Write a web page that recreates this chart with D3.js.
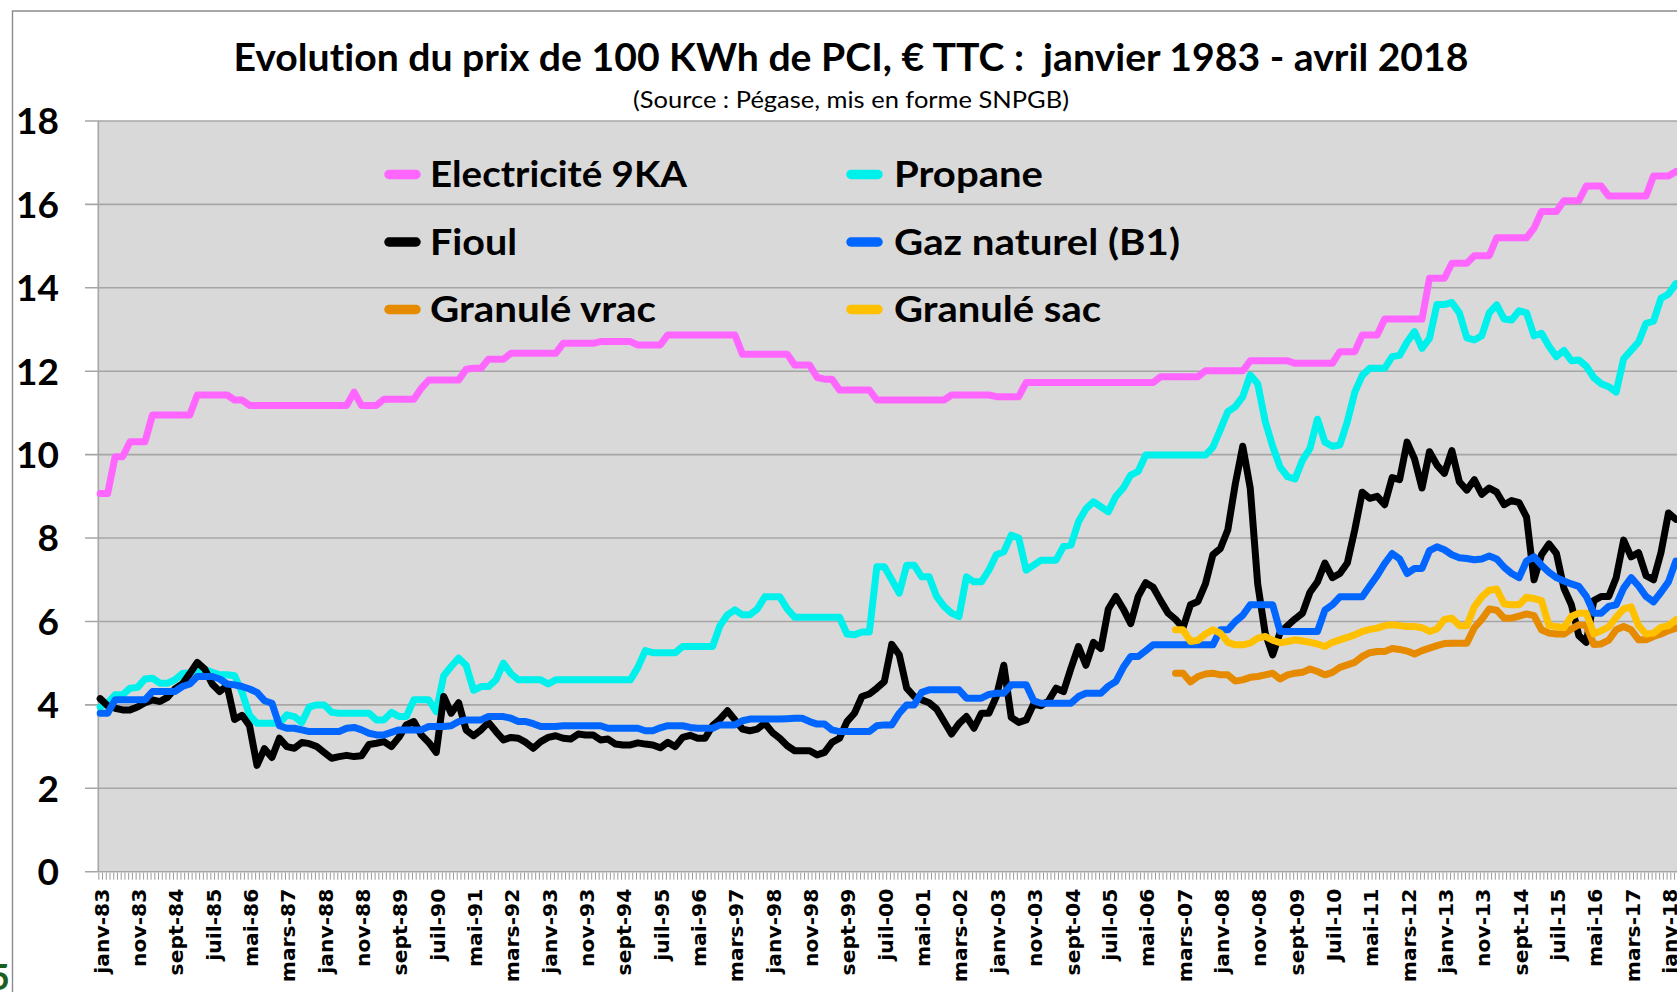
<!DOCTYPE html>
<html>
<head>
<meta charset="utf-8">
<script src="https://cdn.jsdelivr.net/npm/d3@7"></script>
<style>
  html, body { margin: 0; padding: 0; background: #fff; overflow: hidden; }
  svg { display: block; }
  text { font-variant-ligatures: none; }
</style>
</head>
<body>
<svg id="chart" width="1677" height="992"></svg>
<script>
"use strict";

// ---- categories: one per month, janv-83 .. avr-18
const monthNames = ["janv", "févr", "mars", "avr", "mai", "juin", "juil", "août", "sept", "oct", "nov", "déc"];
const firstYear = 1983, lastYear = 2018, lastMonthIndex = 3;
const categories = [];
for (let yr = firstYear; yr <= lastYear; yr++) {
  monthNames.forEach((m, i) => {
    if (yr === lastYear && i > lastMonthIndex) return;
    categories.push(`${m}-${String(yr % 100).padStart(2, "0")}`);
  });
}

// one label every 10 months, as printed on the axis
const tickLabels = [
  "janv-83", "nov-83", "sept-84", "juil-85", "mai-86", "mars-87", "janv-88", "nov-88", "sept-89", "juil-90",
  "mai-91", "mars-92", "janv-93", "nov-93", "sept-94", "juil-95", "mai-96", "mars-97", "janv-98", "nov-98",
  "sept-99", "juil-00", "mai-01", "mars-02", "janv-03", "nov-03", "sept-04", "juil-05", "mai-06", "mars-07",
  "janv-08", "nov-08", "sept-09", "Juil-10", "mai-11", "mars-12", "janv-13", "nov-13", "sept-14", "juil-15",
  "mai-16", "mars-17", "janv-18"
];
const tickEvery = 10;

const yTicks = [0, 2, 4, 6, 8, 10, 12, 14, 16, 18];

// ---- series, € TTC per 100 kWh, read every 2 months (janv, mars, mai, juil, sept, nov)
const sampleStep = 2;

const electricite = [
  9.07, 9.07, 9.95, 9.95, 10.31, 10.31,        // 1983
  10.31, 10.95, 10.95, 10.95, 10.95, 10.95,    // 1984
  10.95, 11.43, 11.43, 11.43, 11.43, 11.43,    // 1985
  11.31, 11.31, 11.18, 11.18, 11.18, 11.18,    // 1986
  11.18, 11.18, 11.18, 11.18, 11.18, 11.18,    // 1987
  11.18, 11.18, 11.18, 11.18, 11.5, 11.18,     // 1988
  11.18, 11.18, 11.33, 11.33, 11.33, 11.33,    // 1989
  11.33, 11.59, 11.79, 11.79, 11.79, 11.79,    // 1990
  11.79, 12.05, 12.07, 12.07, 12.29, 12.29,    // 1991
  12.29, 12.43, 12.43, 12.43, 12.43, 12.43,    // 1992
  12.43, 12.43, 12.67, 12.67, 12.67, 12.67,    // 1993
  12.67, 12.71, 12.71, 12.71, 12.71, 12.71,    // 1994
  12.63, 12.63, 12.63, 12.63, 12.87, 12.87,    // 1995
  12.87, 12.87, 12.87, 12.87, 12.87, 12.87,    // 1996
  12.87, 12.87, 12.41, 12.41, 12.41, 12.41,    // 1997
  12.41, 12.41, 12.41, 12.15, 12.15, 12.15,    // 1998
  11.85, 11.81, 11.81, 11.55, 11.55, 11.55,    // 1999
  11.55, 11.55, 11.31, 11.31, 11.31, 11.31,    // 2000
  11.31, 11.31, 11.31, 11.31, 11.31, 11.31,    // 2001
  11.43, 11.43, 11.43, 11.43, 11.43, 11.43,    // 2002
  11.39, 11.39, 11.39, 11.39, 11.73, 11.73,    // 2003
  11.73, 11.73, 11.73, 11.73, 11.73, 11.73,    // 2004
  11.73, 11.73, 11.73, 11.73, 11.73, 11.73,    // 2005
  11.73, 11.73, 11.73, 11.73, 11.87, 11.87,    // 2006
  11.87, 11.87, 11.87, 11.87, 12.01, 12.01,    // 2007
  12.01, 12.01, 12.01, 12.01, 12.25, 12.25,    // 2008
  12.25, 12.25, 12.25, 12.25, 12.19, 12.19,    // 2009
  12.19, 12.19, 12.19, 12.19, 12.47, 12.47,    // 2010
  12.47, 12.87, 12.87, 12.87, 13.25, 13.25,    // 2011
  13.25, 13.25, 13.25, 13.25, 14.23, 14.23,    // 2012
  14.23, 14.59, 14.59, 14.59, 14.77, 14.77,    // 2013
  14.77, 15.2, 15.2, 15.2, 15.2, 15.2,         // 2014
  15.43, 15.83, 15.83, 15.83, 16.09, 16.09,    // 2015
  16.09, 16.44, 16.44, 16.44, 16.2, 16.2,      // 2016
  16.2, 16.2, 16.2, 16.2, 16.68, 16.68,        // 2017
  16.68, 16.79                                 // 2018
];

const propane = [
  3.95, 4.05, 4.24, 4.24, 4.4, 4.42,           // 1983
  4.62, 4.64, 4.52, 4.52, 4.6, 4.75,           // 1984
  4.77, 4.85, 4.85, 4.78, 4.72, 4.72,          // 1985
  4.7, 4.3, 3.75, 3.56, 3.56, 3.56,            // 1986
  3.56, 3.76, 3.72, 3.58, 3.95, 4.0,           // 1987
  4.0, 3.82, 3.8, 3.8, 3.8, 3.8,               // 1988
  3.8, 3.64, 3.64, 3.82, 3.72, 3.72,           // 1989
  4.12, 4.12, 4.12, 3.84, 4.7, 4.92,           // 1990
  5.12, 4.95, 4.35, 4.44, 4.44, 4.6,           // 1991
  5.0, 4.75, 4.6, 4.6, 4.6, 4.6,               // 1992
  4.5, 4.6, 4.6, 4.6, 4.6, 4.6,                // 1993
  4.6, 4.6, 4.6, 4.6, 4.6, 4.6,                // 1994
  4.9, 5.3, 5.25, 5.25, 5.25, 5.25,            // 1995
  5.4, 5.4, 5.4, 5.4, 5.4, 5.9,                // 1996
  6.16, 6.28, 6.16, 6.16, 6.3, 6.59,           // 1997
  6.59, 6.59, 6.3, 6.1, 6.1, 6.1,              // 1998
  6.1, 6.1, 6.1, 6.1, 5.7, 5.68,               // 1999
  5.75, 5.75, 7.31, 7.31, 7.0, 6.68,           // 2000
  7.35, 7.35, 7.07, 7.07, 6.6, 6.36,           // 2001
  6.2, 6.12, 7.07, 6.95, 6.95, 7.23,           // 2002
  7.6, 7.67, 8.07, 8.0, 7.23, 7.35,            // 2003
  7.47, 7.47, 7.47, 7.8, 7.83, 8.39,           // 2004
  8.7, 8.87, 8.75, 8.63, 9.0, 9.2,             // 2005
  9.51, 9.6, 9.99, 9.99, 9.99, 9.99,           // 2006
  9.99, 9.99, 9.99, 9.99, 9.99, 10.18,         // 2007
  10.6, 11.03, 11.15, 11.39, 11.91, 11.7,      // 2008
  10.8, 10.2, 9.7, 9.47, 9.42, 9.87,           // 2009
  10.15, 10.85, 10.3, 10.2, 10.23, 10.79,      // 2010
  11.5, 11.9, 12.07, 12.07, 12.07, 12.35,      // 2011
  12.38, 12.7, 12.95, 12.55, 12.79, 13.6,      // 2012
  13.6, 13.65, 13.4, 12.8, 12.75, 12.85,       // 2013
  13.4, 13.59, 13.25, 13.23, 13.45, 13.4,      // 2014
  12.85, 12.91, 12.6, 12.35, 12.5, 12.25,      // 2015
  12.27, 12.12, 11.85, 11.7, 11.63, 11.5,      // 2016
  12.3, 12.5, 12.7, 13.15, 13.2, 13.75,        // 2017
  13.85, 14.1                                  // 2018
];

const fioul = [
  4.15, 3.98, 3.92, 3.88, 3.88, 3.95,          // 1983
  4.05, 4.12, 4.08, 4.18, 4.38, 4.5,           // 1984
  4.75, 5.02, 4.86, 4.5, 4.32, 4.46,           // 1985
  3.65, 3.75, 3.5, 2.55, 2.95, 2.74,           // 1986
  3.2, 3.0, 2.96, 3.1, 3.07, 3.0,              // 1987
  2.86, 2.72, 2.76, 2.79, 2.76, 2.78,          // 1988
  3.05, 3.08, 3.12, 3.0, 3.22, 3.52,           // 1989
  3.6, 3.28, 3.1, 2.86, 4.2, 3.8,              // 1990
  4.05, 3.4, 3.26, 3.4, 3.58, 3.36,            // 1991
  3.16, 3.22, 3.2, 3.1, 2.96, 3.12,            // 1992
  3.22, 3.26, 3.2, 3.18, 3.3, 3.28,            // 1993
  3.28, 3.16, 3.18, 3.06, 3.04, 3.04,          // 1994
  3.09, 3.06, 3.04, 2.97, 3.1, 3.0,            // 1995
  3.22, 3.27, 3.2, 3.2, 3.5, 3.66,             // 1996
  3.86, 3.64, 3.42, 3.38, 3.42, 3.56,          // 1997
  3.34, 3.2, 3.02, 2.9, 2.9, 2.9,              // 1998
  2.8, 2.86, 3.1, 3.2, 3.6, 3.8,               // 1999
  4.2, 4.26, 4.4, 4.56, 5.45, 5.2,             // 2000
  4.4, 4.2, 4.12, 4.05, 3.9, 3.6,              // 2001
  3.3, 3.55, 3.72, 3.44, 3.8, 3.8,             // 2002
  4.2, 4.95, 3.7, 3.58, 3.64, 4.02,            // 2003
  3.98, 4.1, 4.4, 4.32, 4.88, 5.4,             // 2004
  4.95, 5.5, 5.35, 6.3, 6.6, 6.3,              // 2005
  5.95, 6.6, 6.93, 6.82, 6.5, 6.2,             // 2006
  6.05, 5.85, 6.4, 6.48, 6.9, 7.6,             // 2007
  7.75, 8.2, 9.3, 10.2, 9.2, 6.9,              // 2008
  5.72, 5.2, 5.74, 5.9, 6.06, 6.2,             // 2009
  6.7, 6.95, 7.4, 7.05, 7.15, 7.4,             // 2010
  8.2, 9.1, 8.95, 9.0, 8.8, 9.45,              // 2011
  9.4, 10.3, 9.9, 9.2, 10.07, 9.75,            // 2012
  9.55, 10.1, 9.35, 9.15, 9.4, 9.05,           // 2013
  9.2, 9.1, 8.8, 8.9, 8.85, 8.5,               // 2014
  7.0, 7.6, 7.86, 7.63, 6.8, 6.4,              // 2015
  5.66, 5.5, 6.5, 6.6, 6.6, 7.05,              // 2016
  7.95, 7.55, 7.65, 7.1, 7.0, 7.65,            // 2017
  8.6, 8.45                                    // 2018
];

const gazNaturel = [
  3.8, 3.8, 4.12, 4.12, 4.12, 4.12,            // 1983
  4.12, 4.32, 4.32, 4.32, 4.32, 4.44,          // 1984
  4.5, 4.68, 4.68, 4.68, 4.62, 4.5,            // 1985
  4.48, 4.44, 4.38, 4.3, 4.1, 4.04,            // 1986
  3.5, 3.44, 3.44, 3.4, 3.36, 3.36,            // 1987
  3.36, 3.36, 3.36, 3.44, 3.46, 3.4,           // 1988
  3.32, 3.28, 3.28, 3.34, 3.4, 3.4,            // 1989
  3.4, 3.4, 3.48, 3.48, 3.48, 3.5,             // 1990
  3.6, 3.64, 3.64, 3.64, 3.72, 3.72,           // 1991
  3.72, 3.68, 3.6, 3.6, 3.55, 3.48,            // 1992
  3.48, 3.48, 3.5, 3.5, 3.5, 3.5,              // 1993
  3.5, 3.5, 3.44, 3.44, 3.44, 3.44,            // 1994
  3.44, 3.38, 3.38, 3.45, 3.5, 3.5,            // 1995
  3.5, 3.46, 3.44, 3.44, 3.44, 3.52,           // 1996
  3.52, 3.52, 3.62, 3.66, 3.66, 3.66,          // 1997
  3.66, 3.66, 3.67, 3.68, 3.68, 3.6,           // 1998
  3.54, 3.54, 3.4, 3.36, 3.36, 3.36,           // 1999
  3.36, 3.36, 3.5, 3.52, 3.52, 3.8,            // 2000
  4.0, 4.0, 4.3, 4.36, 4.36, 4.36,             // 2001
  4.36, 4.36, 4.16, 4.16, 4.16, 4.25,          // 2002
  4.28, 4.28, 4.48, 4.48, 4.48, 4.1,           // 2003
  4.04, 4.04, 4.04, 4.04, 4.04, 4.2,           // 2004
  4.28, 4.28, 4.28, 4.45, 4.56, 4.9,           // 2005
  5.16, 5.16, 5.3, 5.44, 5.44, 5.44,           // 2006
  5.44, 5.44, 5.44, 5.44, 5.44, 5.44,          // 2007
  5.8, 5.8, 6.0, 6.15, 6.4, 6.4,               // 2008
  6.4, 6.4, 5.76, 5.76, 5.76, 5.76,            // 2009
  5.76, 5.76, 6.27, 6.4, 6.59, 6.59,           // 2010
  6.59, 6.59, 6.85, 7.1, 7.39, 7.63,           // 2011
  7.5, 7.15, 7.27, 7.27, 7.7, 7.79,            // 2012
  7.72, 7.6, 7.53, 7.51, 7.48, 7.5,            // 2013
  7.57, 7.5, 7.3, 7.15, 7.05, 7.45,            // 2014
  7.55, 7.35, 7.18, 7.05, 6.97, 6.9,           // 2015
  6.84, 6.6, 6.2, 6.2, 6.36, 6.4,              // 2016
  6.8, 7.05, 6.85, 6.6, 6.47, 6.7,             // 2017
  6.95, 7.45                                   // 2018
];

// pellet series start in janvier 2007
const granuleStart = "janv-07";

const granuleVrac = [
  4.76, 4.76, 4.55, 4.68, 4.74, 4.76,          // 2007
  4.72, 4.72, 4.57, 4.6, 4.66, 4.68,           // 2008
  4.72, 4.76, 4.62, 4.72, 4.76, 4.78,          // 2009
  4.86, 4.8, 4.72, 4.78, 4.9, 4.96,            // 2010
  5.02, 5.16, 5.25, 5.28, 5.28, 5.35,          // 2011
  5.33, 5.29, 5.22, 5.3, 5.36, 5.42,           // 2012
  5.47, 5.48, 5.48, 5.48, 5.85, 6.05,          // 2013
  6.3, 6.27, 6.08, 6.08, 6.13, 6.18,           // 2014
  6.14, 5.8, 5.72, 5.7, 5.7, 5.82,             // 2015
  5.92, 5.9, 5.45, 5.46, 5.55, 5.8,            // 2016
  5.88, 5.8, 5.56, 5.56, 5.64, 5.7,            // 2017
  5.78, 5.84                                   // 2018
];

const granuleSac = [
  5.8, 5.8, 5.52, 5.55, 5.7, 5.8,              // 2007
  5.72, 5.5, 5.44, 5.44, 5.48, 5.6,            // 2008
  5.64, 5.55, 5.49, 5.52, 5.56, 5.53,          // 2009
  5.5, 5.46, 5.4, 5.5, 5.56, 5.62,             // 2010
  5.68, 5.76, 5.81, 5.84, 5.9, 5.92,           // 2011
  5.9, 5.88, 5.88, 5.85, 5.76, 5.82,           // 2012
  6.05, 6.08, 5.9, 5.9, 6.35, 6.59,            // 2013
  6.75, 6.78, 6.42, 6.4, 6.4, 6.58,            // 2014
  6.55, 6.5, 5.9, 5.88, 5.85, 6.12,            // 2015
  6.2, 6.2, 5.7, 5.78, 5.87, 6.1,              // 2016
  6.3, 6.35, 5.9, 5.7, 5.72, 5.86,             // 2017
  5.9, 6.04                                    // 2018
];

const seriesNames = ["Electricité 9KA", "Propane", "Fioul", "Gaz naturel (B1)", "Granulé vrac", "Granulé sac"];
const seriesValues = [electricite, propane, fioul, gazNaturel, granuleVrac, granuleSac];
const seriesStarts = ["janv-83", "janv-83", "janv-83", "janv-83", granuleStart, granuleStart];
const seriesColors = ["#FF66FF", "#00F0EC", "#000000", "#0066FF", "#E68A00", "#FFC000"];

// ---- layout
const W = 1677, H = 992;
const margin = { left: 98.3, top: 121, bottom: 871.7 };
const bandW = 3.734;
const gridColor = "#A6A6A6";
const calibri = "Lato, 'Open Sans', sans-serif";
const axisFont = "'DejaVu Sans', Verdana, sans-serif";

const svg = d3.select("#chart");
svg.append("rect").attr("width", W).attr("height", H).attr("fill", "#fff");

const x = d3.scaleBand()
  .domain(categories)
  .range([margin.left, margin.left + categories.length * bandW])
  .paddingInner(0).paddingOuter(0);
const y = d3.scaleLinear().domain([0, 18]).range([margin.bottom, margin.top]);
const plotRight = x.range()[1];
const cx = c => x(c) + x.bandwidth() / 2;

// outer chart frame (only the top and left edges are in view)
svg.append("path")
  .attr("d", `M12.5,${H} V11 H${W}`)
  .attr("fill", "none").attr("stroke", "#8C8C8C").attr("stroke-width", 1.4);

// stray glyph peeking out at the bottom left
svg.append("text")
  .attr("x", 10).attr("y", 990)
  .attr("text-anchor", "end")
  .attr("font-family", calibri).attr("font-weight", "bold").attr("font-size", 36)
  .attr("fill", "#1D5E1D")
  .text("5");

// plot area
svg.append("rect")
  .attr("x", margin.left).attr("y", margin.top)
  .attr("width", plotRight - margin.left).attr("height", margin.bottom - margin.top)
  .attr("fill", "#D9D9D9");

// gridlines + left tick marks
svg.append("g").selectAll("line")
  .data(yTicks)
  .join("line")
  .attr("x1", 85).attr("x2", plotRight)
  .attr("y1", d => y(d)).attr("y2", d => y(d))
  .attr("stroke", gridColor).attr("stroke-width", 1.6);

// y axis line
svg.append("line")
  .attr("x1", margin.left).attr("x2", margin.left)
  .attr("y1", margin.top).attr("y2", margin.bottom)
  .attr("stroke", gridColor).attr("stroke-width", 1.6);

// y labels
svg.append("g").selectAll("text")
  .data(yTicks)
  .join("text")
  .attr("x", 59).attr("y", d => y(d))
  .attr("dy", "0.36em")
  .attr("text-anchor", "end")
  .attr("font-family", calibri).attr("font-weight", "bold").attr("font-size", 37)
  .attr("fill", "#000")
  .text(d => d);

// monthly tick marks under the category axis
svg.append("g").selectAll("line")
  .data(categories)
  .join("line")
  .attr("x1", d => x(d) + 0.5).attr("x2", d => x(d) + 0.5)
  .attr("y1", margin.bottom + 1).attr("y2", margin.bottom + 8)
  .attr("stroke", "#9A9A9A").attr("stroke-width", 1);

// category labels, rotated; font size tuned so "janv-83" runs about 85px
const gX = svg.append("g");
const xLabels = gX.selectAll("text")
  .data(tickLabels)
  .join("text")
  .attr("transform", (d, i) => `translate(${cx(categories[i * tickEvery]) + 1.2},${margin.bottom + 17}) rotate(-90)`)
  .attr("dy", "0.36em")
  .attr("text-anchor", "end")
  .attr("font-family", axisFont).attr("font-weight", "bold").attr("font-size", 20)
  .attr("fill", "#000")
  .text(d => d);
const firstLen = xLabels.node().getComputedTextLength();
if (firstLen > 0) xLabels.attr("font-size", 20 * 85 / firstLen);

// series lines
const line = d3.line()
  .x(d => cx(d.cat))
  .y(d => y(d.v))
  .curve(d3.curveLinear);

const gLines = svg.append("g");
seriesValues.forEach((vals, s) => {
  const start = categories.indexOf(seriesStarts[s]);
  const pts = vals.map((v, i) => ({ cat: categories[start + i * sampleStep], v }));
  gLines.append("path")
    .attr("d", line(pts))
    .attr("fill", "none")
    .attr("stroke", seriesColors[s])
    .attr("stroke-width", 7)
    .attr("stroke-linejoin", "round")
    .attr("stroke-linecap", "round");
});

// legend: 2 columns, 3 rows
const legendCols = [{ mark: 385, text: 430 }, { mark: 847, text: 894 }];
const legendRows = [174.5, 242, 309.5];
const legendWidths = [257, 149, 87, 286, 226, 207];
const gLeg = svg.append("g");
seriesNames.forEach((name, s) => {
  const col = legendCols[s % 2], rowY = legendRows[Math.floor(s / 2)];
  gLeg.append("line")
    .attr("x1", col.mark + 4).attr("x2", col.mark + 31)
    .attr("y1", rowY).attr("y2", rowY)
    .attr("stroke", seriesColors[s]).attr("stroke-width", 9.5)
    .attr("stroke-linecap", "round");
  gLeg.append("text")
    .attr("x", col.text).attr("y", rowY + 12.8)
    .attr("font-family", calibri).attr("font-weight", "bold").attr("font-size", 36)
    .attr("textLength", legendWidths[s]).attr("lengthAdjust", "spacingAndGlyphs")
    .attr("fill", "#000")
    .text(name);
});

// titles
svg.append("text")
  .attr("x", 851).attr("y", 71)
  .attr("text-anchor", "middle")
  .style("white-space", "pre")
  .attr("font-family", calibri).attr("font-weight", "bold").attr("font-size", 38)
  .attr("textLength", 1235).attr("lengthAdjust", "spacingAndGlyphs")
  .attr("fill", "#000")
  .text("Evolution du prix de 100 KWh de PCI, € TTC :  janvier 1983 - avril 2018");

svg.append("text")
  .attr("x", 851).attr("y", 108)
  .attr("text-anchor", "middle")
  .attr("font-family", calibri).attr("font-size", 23)
  .attr("textLength", 436).attr("lengthAdjust", "spacingAndGlyphs")
  .attr("fill", "#000")
  .text("(Source : Pégase, mis en forme SNPGB)");
</script>
</body>
</html>
